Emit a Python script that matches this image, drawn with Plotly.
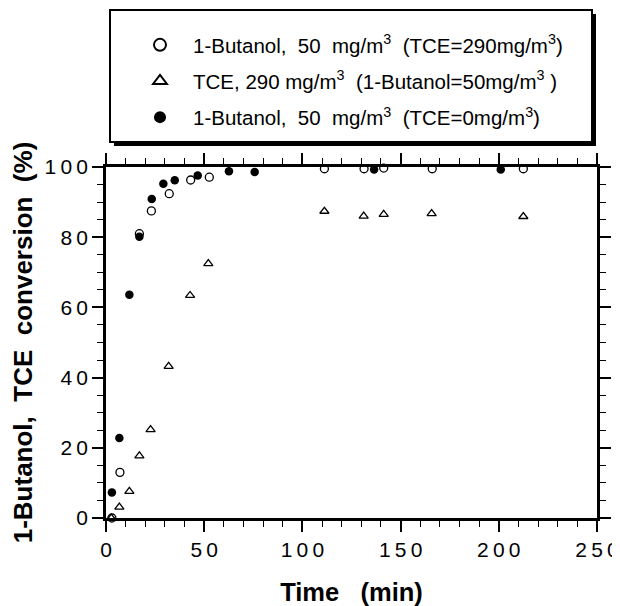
import plotly.graph_objects as go

# ---- data ----
but_tce290_t = [3.0, 7.1, 17.0, 23.1, 32.2, 43.1, 52.6, 111.2, 131.4, 141.4, 166.1, 212.5]
but_tce290_y = [0.0, 13.0, 81.0, 87.5, 92.4, 96.3, 97.1, 99.5, 99.5, 99.7, 99.5, 99.5]

tce_t = [2.7, 6.8, 11.9, 17.0, 22.7, 31.9, 42.8, 52.1, 111.2, 131.2, 141.4, 165.8, 212.5]
tce_y = [0.0, 3.1, 7.6, 17.7, 25.2, 43.2, 63.4, 72.5, 87.4, 86.0, 86.5, 86.7, 85.9]

but_tce0_t = [3.0, 6.8, 11.9, 17.0, 23.3, 29.2, 35.0, 46.7, 62.6, 75.7, 136.5, 201.0]
but_tce0_y = [7.3, 22.8, 63.6, 80.1, 90.9, 95.2, 96.2, 97.6, 98.8, 98.6, 99.3, 99.3]

x_ticks = [0, 50, 100, 150, 200, 250]
x_ticklabels = ["0", "5\u20090", "1\u20090\u20090", "1\u20095\u20090", "2\u20090\u20090", "2\u20095\u20090"]
y_ticks = [0, 20, 40, 60, 80, 100]
y_ticklabels = ["0", "2\u20090", "4\u20090", "6\u20090", "8\u20090", "1\u20090\u20090"]

names = [
    "1-Butanol,\u00a0 50\u00a0 mg/m<sup>3</sup>\u00a0 (TCE=290mg/m<sup>3</sup>)",
    "TCE, 290 mg/m<sup>3</sup>\u00a0 (1-Butanol=50mg/m<sup>3</sup>\u00a0)",
    "1-Butanol,\u00a0 50\u00a0 mg/m<sup>3</sup>\u00a0 (TCE=0mg/m<sup>3</sup>)",
]

FONT = "Liberation Sans, Arial, Helvetica, sans-serif"

fig = go.Figure()
fig.add_trace(go.Scatter(
    x=but_tce290_t, y=but_tce290_y, mode="markers", name=names[0], legendgroup="a",
    marker=dict(symbol="circle-open", size=8, color="black", line=dict(width=1.3)),
    cliponaxis=False))
fig.add_trace(go.Scatter(
    x=tce_t, y=tce_y, mode="markers", name=names[1], legendgroup="b",
    marker=dict(symbol="triangle-up-open", size=8, color="black", line=dict(width=1.3)),
    cliponaxis=False))
fig.add_trace(go.Scatter(
    x=but_tce0_t, y=but_tce0_y, mode="markers", name=names[2], legendgroup="c",
    marker=dict(symbol="circle", size=8.5, color="black"),
    cliponaxis=False))

# page has an 8px body margin; figure is sized to fit inside the window
OFF = 8
W, H = 620 - OFF, 606 - OFF
L, T = 106 - OFF, 167 - OFF
R = W - (597 - OFF)
B = H - (518 - OFF)
pw, ph = W - L - R, H - T - B

def px_x(p):
    return (p - OFF - L) / pw

def px_y(p):
    return (H - B - (p - OFF)) / ph

axis_common = dict(
    showline=True, linecolor="black", linewidth=2.5, mirror="ticks",
    ticks="outside", ticklen=11, tickwidth=1.5, tickcolor="black",
    showgrid=False, zeroline=False, automargin=False,
    tickfont=dict(family=FONT, size=21, color="black"),
)

fig.update_layout(
    width=W, height=H,
    margin=dict(l=L, r=R, t=T, b=B, autoexpand=False),
    paper_bgcolor="white", plot_bgcolor="white",
    font=dict(family=FONT, color="black"),
    xaxis=dict(
        range=[0, 250], tickvals=x_ticks, ticktext=x_ticklabels,
        minor=dict(dtick=10, ticklen=6, tickwidth=1.2, ticks="outside", tickcolor="black"),
        title=dict(text="<b>Time\u00a0\u00a0 (min)</b>", font=dict(family=FONT, size=25.5), standoff=31),
        **axis_common),
    yaxis=dict(
        range=[0, 100], tickvals=y_ticks, ticktext=y_ticklabels,
        minor=dict(dtick=5, ticklen=6, tickwidth=1.2, ticks="outside", tickcolor="black"),
        title=dict(text="<b>1-Butanol,\u00a0 TCE\u00a0 conversion\u00a0 (%)</b>", font=dict(family=FONT, size=26), standoff=6),
        **axis_common),
    showlegend=True,
    legend=dict(
        x=px_x(127), y=px_y(25), xanchor="left", yanchor="top",
        bgcolor="rgba(0,0,0,0)", borderwidth=0,
        font=dict(family=FONT, size=20.5, color="black"),
        tracegroupgap=6.5, itemsizing="constant", itemwidth=56,
    ),
    shapes=[
        dict(type="rect", xref="paper", yref="paper",
             x0=px_x(114), x1=px_x(596), y0=px_y(146), y1=px_y(14),
             fillcolor="black", line=dict(width=0), layer="below"),
        dict(type="rect", xref="paper", yref="paper",
             x0=px_x(110), x1=px_x(592), y0=px_y(142), y1=px_y(10),
             fillcolor="white", line=dict(color="black", width=2), layer="below"),
    ],
)

fig.write_html("out.html")
